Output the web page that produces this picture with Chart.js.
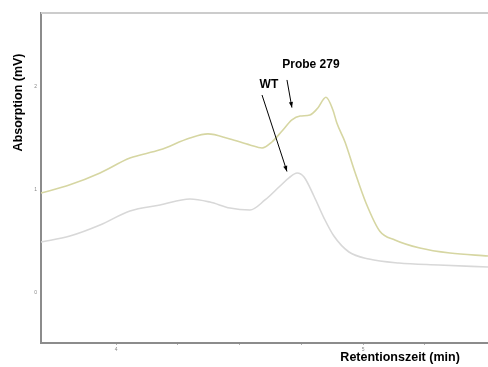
<!DOCTYPE html>
<html lang="de">
  <head>
    <meta charset="UTF-8" />
    <title>Chromatogramm</title>
    <style>
      body { margin: 0; background: #fff; }
      canvas { display: block; }
    </style>
  </head>
  <body>
    <canvas id="chart" width="488" height="367"></canvas>
    <script src="https://cdn.jsdelivr.net/npm/chart.js"></script>
    <script>
      // Retentionszeit (min) und Absorption (mV)
      const timeProbe = [3.696, 3.813, 3.935, 4.056, 4.178, 4.299, 4.372, 4.461, 4.542, 4.591, 4.631, 4.672, 4.712, 4.745, 4.785, 4.817, 4.850, 4.878, 4.894, 4.927, 4.967, 5.012, 5.068, 5.129, 5.230, 5.352, 5.506];
      const probe = [0.97, 1.05, 1.165, 1.31, 1.39, 1.505, 1.545, 1.495, 1.437, 1.408, 1.466, 1.573, 1.68, 1.718, 1.728, 1.796, 1.90, 1.777, 1.65, 1.466, 1.175, 0.874, 0.60, 0.515, 0.437, 0.388, 0.36];

      const timeWT = [3.696, 3.813, 3.935, 4.056, 4.178, 4.299, 4.380, 4.461, 4.542, 4.603, 4.664, 4.700, 4.733, 4.761, 4.801, 4.842, 4.882, 4.943, 5.024, 5.145, 5.307, 5.506];
      const wt = [0.495, 0.553, 0.66, 0.796, 0.854, 0.913, 0.883, 0.825, 0.806, 0.903, 1.039, 1.117, 1.165, 1.126, 0.942, 0.728, 0.553, 0.398, 0.33, 0.291, 0.272, 0.252];

      const xLabels = [4, 5];
      const yLabels = [0, 1, 2];

      // Beschriftungen im Diagramm: [text, x, y]
      const notes = [['Probe 279', 4.789, 2.214], ['WT', 4.619, 2.019]];
      // Pfeile: [x1, y1, x2, y2]
      const arrows = [[4.692, 2.068, 4.712, 1.80], [4.591, 1.922, 4.692, 1.18]];

      function toPoints(xs, ys) {
        return xs.map((x, i) => ({ x: x, y: ys[i] }));
      }

      const extras = {
        id: 'extras',
        afterDraw(chart) {
          const ctx = chart.ctx;
          const a = chart.chartArea;
          const xs = chart.scales.x;
          const ys = chart.scales.y;
          ctx.save();
          // obere Rahmenlinie
          ctx.strokeStyle = '#cccccc';
          ctx.lineWidth = 2;
          ctx.beginPath();
          ctx.moveTo(a.left, a.top);
          ctx.lineTo(a.right, a.top);
          ctx.stroke();

          ctx.fillStyle = '#000';
          ctx.font = 'bold 12px "Liberation Sans", Arial, sans-serif';
          ctx.textAlign = 'center';
          ctx.textBaseline = 'middle';
          for (const n of notes) {
            ctx.fillText(n[0], xs.getPixelForValue(n[1]), ys.getPixelForValue(n[2]));
          }

          ctx.strokeStyle = '#000';
          ctx.lineWidth = 1;
          for (const ar of arrows) {
            const x1 = xs.getPixelForValue(ar[0]), y1 = ys.getPixelForValue(ar[1]);
            const x2 = xs.getPixelForValue(ar[2]), y2 = ys.getPixelForValue(ar[3]);
            ctx.beginPath();
            ctx.moveTo(x1, y1);
            ctx.lineTo(x2, y2);
            ctx.stroke();
            const ang = Math.atan2(y2 - y1, x2 - x1);
            ctx.beginPath();
            ctx.moveTo(x2, y2);
            ctx.lineTo(x2 - 6 * Math.cos(ang - 0.35), y2 - 6 * Math.sin(ang - 0.35));
            ctx.lineTo(x2 - 6 * Math.cos(ang + 0.35), y2 - 6 * Math.sin(ang + 0.35));
            ctx.closePath();
            ctx.fill();
          }

          // Achsentitel
          ctx.font = 'bold 12.5px "Liberation Sans", Arial, sans-serif';
          ctx.fillText('Retentionszeit (min)', xs.getPixelForValue(5.15), 358);
          ctx.translate(19, ys.getPixelForValue(1.85));
          ctx.rotate(-Math.PI / 2);
          ctx.fillText('Absorption (mV)', 0, 0);
          ctx.restore();
        }
      };

      new Chart(document.getElementById('chart'), {
        type: 'line',
        data: {
          datasets: [
            {
              label: 'Probe 279',
              data: toPoints(timeProbe, probe),
              borderColor: '#d6d6a2',
              borderWidth: 1.6,
              pointRadius: 0,
              cubicInterpolationMode: 'monotone'
            },
            {
              label: 'WT',
              data: toPoints(timeWT, wt),
              borderColor: '#d8d8d8',
              borderWidth: 1.6,
              pointRadius: 0,
              cubicInterpolationMode: 'monotone'
            }
          ]
        },
        options: {
          responsive: false,
          animation: false,
          layout: { padding: { top: 13, right: 0, bottom: 0, left: 0 } },
          plugins: { legend: { display: false }, tooltip: { enabled: false } },
          scales: {
            x: {
              type: 'linear',
              min: 3.696,
              max: 5.506,
              afterFit: s => { s.height = 24; },
              afterBuildTicks: s => { s.ticks = s.ticks.filter(t => t.value >= 4 && t.value <= 5.25); },
              border: { color: '#8c8c8c', width: 2 },
              grid: { drawOnChartArea: false, drawTicks: true, tickLength: 2, color: '#b0b0b0' },
              ticks: {
                stepSize: 0.25,
                includeBounds: false,
                autoSkip: false,
                maxRotation: 0,
                padding: 2,
                color: '#888',
                font: { size: 5 },
                callback: v => (xLabels.includes(v) ? String(v) : '')
              }
            },
            y: {
              min: -0.485,
              max: 2.718,
              afterFit: s => { s.width = 41; },
              border: { color: '#8c8c8c', width: 2 },
              grid: { drawOnChartArea: false, drawTicks: false },
              ticks: {
                stepSize: 1,
                includeBounds: false,
                padding: 4,
                color: '#888',
                font: { size: 5 },
                callback: v => (yLabels.includes(v) ? String(v) : '')
              }
            }
          }
        },
        plugins: [extras]
      });
    </script>
  </body>
</html>
